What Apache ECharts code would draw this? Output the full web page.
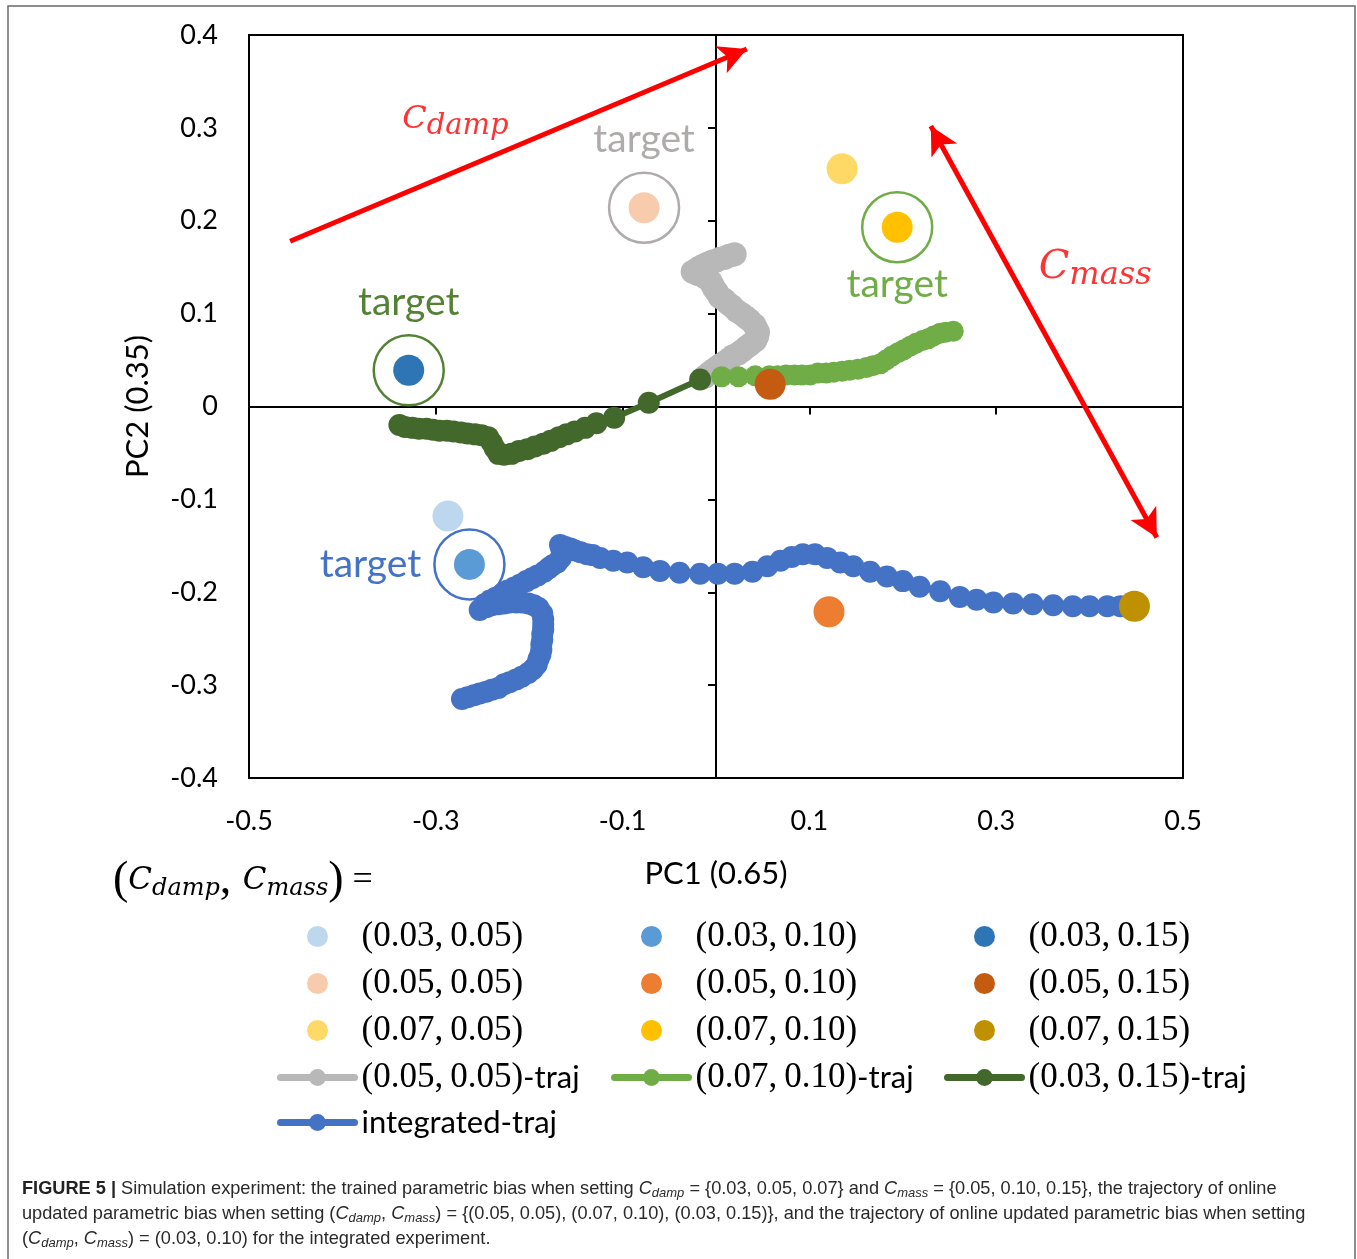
<!DOCTYPE html>
<html><head><meta charset="utf-8">
<script src="https://cdn.jsdelivr.net/npm/echarts@6/dist/echarts.min.js"></script>
<style>html,body{margin:0;padding:0;background:#fff}#c{width:1357px;height:1259px}</style>
</head><body><div id="c"></div>
<script>
// ---------- data ----------
const xTickLabels = [-0.5, -0.3, -0.1, 0.1, 0.3, 0.5];
const xInnerTicks = [-0.3, -0.1, 0.1, 0.3];

const trainedNames = ['(0.03,0.05)', '(0.05,0.05)', '(0.07,0.05)', '(0.03,0.10)', '(0.05,0.10)', '(0.07,0.10)', '(0.03,0.15)', '(0.05,0.15)', '(0.07,0.15)'];
const trainedX = [-0.287, -0.077, 0.135, -0.264, 0.121, 0.194, -0.329, 0.058, 0.448];
const trainedY = [-0.118, 0.214, 0.256, -0.170, -0.221, 0.193, 0.039, 0.024, -0.215];
const trainedColors = ['#BDD7EE', '#F8CBAD', '#FFD966', '#5B9BD5', '#ED7D31', '#FFC000', '#2E75B6', '#C55A11', '#BF9000'];

const grayTrajX = [-0.012, -0.007, -0.003, 0.001, 0.005, 0.010, 0.014, 0.018, 0.024, 0.028, 0.033, 0.037, 0.042, 0.044, 0.045, 0.043, 0.041, 0.036, 0.032, 0.027, 0.022, 0.017, 0.013, 0.009, 0.004, 0.001, -0.002, -0.004, -0.006, -0.010, -0.013, -0.017, -0.020, -0.025, -0.020, -0.017, -0.013, -0.009, -0.004, 0.000, 0.004, 0.009, 0.013, 0.017, 0.020];
const grayTrajY = [0.032, 0.036, 0.039, 0.042, 0.045, 0.048, 0.051, 0.054, 0.057, 0.060, 0.064, 0.067, 0.071, 0.075, 0.080, 0.084, 0.088, 0.093, 0.096, 0.100, 0.103, 0.108, 0.111, 0.115, 0.118, 0.123, 0.127, 0.131, 0.135, 0.138, 0.140, 0.142, 0.143, 0.145, 0.148, 0.150, 0.152, 0.154, 0.156, 0.157, 0.159, 0.160, 0.162, 0.163, 0.164];

const lgTrajX = [0.006, 0.024, 0.042, 0.057, 0.066, 0.075, 0.084, 0.092, 0.101, 0.109, 0.118, 0.126, 0.135, 0.143, 0.152, 0.161, 0.168, 0.176, 0.182, 0.188, 0.195, 0.201, 0.208, 0.214, 0.221, 0.227, 0.233, 0.240, 0.246, 0.254];
const lgTrajY = [0.032, 0.032, 0.033, 0.033, 0.033, 0.034, 0.034, 0.034, 0.034, 0.036, 0.036, 0.037, 0.038, 0.039, 0.040, 0.042, 0.044, 0.046, 0.050, 0.054, 0.058, 0.061, 0.065, 0.068, 0.071, 0.073, 0.076, 0.079, 0.080, 0.081];

const dgTrajX = [-0.017, -0.072, -0.109, -0.128, -0.140, -0.151, -0.160, -0.168, -0.177, -0.185, -0.194, -0.202, -0.211, -0.219, -0.227, -0.233, -0.237, -0.240, -0.244, -0.251, -0.258, -0.266, -0.273, -0.281, -0.288, -0.296, -0.303, -0.310, -0.318, -0.325, -0.333, -0.339];
const dgTrajY = [0.029, 0.004, -0.012, -0.018, -0.023, -0.027, -0.030, -0.033, -0.037, -0.040, -0.043, -0.046, -0.048, -0.051, -0.052, -0.051, -0.045, -0.039, -0.033, -0.031, -0.030, -0.029, -0.028, -0.027, -0.026, -0.026, -0.025, -0.024, -0.024, -0.023, -0.022, -0.020];

const intTrajX = [-0.272, -0.266, -0.259, -0.253, -0.246, -0.240, -0.233, -0.227, -0.221, -0.214, -0.208, -0.201, -0.196, -0.192, -0.190, -0.188, -0.187, -0.187, -0.186, -0.186, -0.185, -0.185, -0.185, -0.186, -0.190, -0.195, -0.201, -0.208, -0.214, -0.221, -0.227, -0.233, -0.240, -0.246, -0.253, -0.248, -0.242, -0.236, -0.229, -0.223, -0.216, -0.210, -0.203, -0.197, -0.191, -0.184, -0.179, -0.175, -0.170, -0.166, -0.164, -0.166, -0.167, -0.162, -0.156, -0.151, -0.145, -0.138, -0.132, -0.124, -0.110, -0.095, -0.078, -0.060, -0.039, -0.017, 0.002, 0.020, 0.039, 0.055, 0.069, 0.081, 0.093, 0.106, 0.119, 0.133, 0.147, 0.165, 0.183, 0.200, 0.218, 0.240, 0.261, 0.279, 0.297, 0.318, 0.339, 0.361, 0.382, 0.400, 0.419, 0.433];
const intTrajY = [-0.315, -0.313, -0.311, -0.309, -0.307, -0.305, -0.303, -0.299, -0.297, -0.294, -0.291, -0.287, -0.283, -0.278, -0.272, -0.267, -0.262, -0.256, -0.251, -0.245, -0.240, -0.235, -0.229, -0.223, -0.217, -0.214, -0.212, -0.211, -0.211, -0.211, -0.212, -0.213, -0.214, -0.216, -0.219, -0.213, -0.209, -0.206, -0.202, -0.198, -0.195, -0.192, -0.188, -0.185, -0.182, -0.178, -0.174, -0.171, -0.168, -0.163, -0.157, -0.152, -0.149, -0.151, -0.153, -0.155, -0.157, -0.159, -0.160, -0.163, -0.166, -0.168, -0.173, -0.177, -0.179, -0.180, -0.180, -0.180, -0.178, -0.172, -0.166, -0.162, -0.159, -0.159, -0.163, -0.168, -0.172, -0.178, -0.183, -0.188, -0.194, -0.199, -0.205, -0.208, -0.211, -0.212, -0.213, -0.214, -0.215, -0.215, -0.215, -0.215];

// target rings: index into trained arrays
const targetIdx = [6, 1, 5, 3];
const targetColors = ['#548235', '#AFABAB', '#70AD47', '#4472C4'];
const targetLabelPos = ['top', 'top', 'bottom', 'left'];

// annotation arrows (data coords)
const dampArrow = [[-0.456, 0.178], [0.033, 0.385]];
const massArrow = [[0.230, 0.302], [0.472, -0.141]];
const dampLabelAt = [-0.279, 0.309];
const massLabelAt = [0.406, 0.150];

// ---------- helpers ----------
const zip = (xs, ys) => xs.map((x, i) => [x, ys[i]]);
const fmt = v => Math.abs(v) < 1e-9 ? '0' : String(Math.round(v * 10) / 10);
const serif = 'Liberation Serif';
const sans = 'Lato';
const mathFont = 'DejaVu Serif';

function legendFmt(name) {
  if (name === 'integrated-traj') return '{s|integrated-traj}';
  const m = name.match(/^\((0\.\d\d),(0\.\d\d)\)(-traj)?$/);
  if (!m) return name;
  const main = '{m|(' + m[1] + ',\u2009' + m[2] + ')}';
  return m[3] ? main + '{s|-traj}' : main;
}
const legendRich = {
  m: { fontFamily: serif, fontSize: 35, lineHeight: 40, color: '#000' },
  s: { fontFamily: sans, fontSize: 31, lineHeight: 40, color: '#000' }
};
function mkLegend(left, data) {
  return {
    orient: 'vertical', left: left, top: 919, padding: 0, itemWidth: 74, itemHeight: 21, itemGap: 12,
    selectedMode: false, data: data, formatter: legendFmt,
    lineStyle: { width: 7, cap: 'round' },
    textStyle: { rich: legendRich, padding: [0, 0, 0, 2] }
  };
}

function trajSeries(name, xs, ys, color, size, lw) {
  return {
    type: 'line', name: name, data: zip(xs, ys), symbol: 'circle', symbolSize: size,
    showSymbol: true, silent: true, z: 2,
    lineStyle: { color: color, width: lw }, itemStyle: { color: color, borderWidth: 0, opacity: 1 },
    emphasis: { disabled: true }
  };
}

const series = [];
series.push(trajSeries('(0.05,0.05)-traj', grayTrajX, grayTrajY, '#B8B8B8', 24, 7));
series.push(trajSeries('(0.07,0.10)-traj', lgTrajX, lgTrajY, '#70AD47', 21, 7));
series.push(trajSeries('(0.03,0.15)-traj', dgTrajX, dgTrajY, '#43682B', 22, 6));
series.push(trajSeries('integrated-traj', intTrajX, intTrajY, '#4472C4', 22, 7));

// target rings
series.push({
  type: 'scatter', name: 'targets', silent: true, z: 3,
  symbol: 'circle', symbolSize: 70,
  data: targetIdx.map((ti, k) => ({
    value: [trainedX[ti], trainedY[ti]],
    itemStyle: { color: 'rgba(0,0,0,0)', borderColor: targetColors[k], borderWidth: 2.5, opacity: 1 },
    label: {
      show: true, position: targetLabelPos[k], formatter: 'target', color: targetColors[k],
      distance: targetLabelPos[k] === 'bottom' ? 1 : 12,
      fontFamily: sans, fontSize: 39, lineHeight: 40
    }
  }))
});

// trained PB points
trainedNames.forEach((n, i) => {
  series.push({
    type: 'scatter', name: n, silent: true, z: 4, symbol: 'circle', symbolSize: 31,
    itemStyle: { color: trainedColors[i], borderWidth: 0, opacity: 1 },
    data: [[trainedX[i], trainedY[i]]]
  });
});

const arrowLine = { color: '#FF0000', width: 5, type: 'solid', opacity: 1 };
const mathRich = (cs, ss, pad) => ({
  c: { fontFamily: mathFont, fontStyle: 'italic', fontWeight: 'normal', fontSize: cs, color: '#FF0000' },
  s: { fontFamily: mathFont, fontStyle: 'italic', fontWeight: 'normal', fontSize: ss, color: '#FF0000', padding: [pad, 0, 0, 0] }
});
series.push({
  type: 'scatter', name: 'dampAnnot', silent: true, z: 5, symbolSize: 1,
  itemStyle: { color: 'rgba(0,0,0,0)' },
  data: [dampLabelAt],
  label: { show: true, position: 'inside', formatter: '{c|C}{s|damp}', rich: mathRich(32, 29, 14) },
  markLine: {
    silent: true, symbol: ['none', 'arrow'], symbolSize: [22, 28], animation: false,
    label: { show: false }, lineStyle: arrowLine, itemStyle: { color: '#FF0000' }, emphasis: { disabled: true },
    data: [[{ coord: dampArrow[0] }, { coord: dampArrow[1] }]]
  }
});
series.push({
  type: 'scatter', name: 'massAnnot', silent: true, z: 5, symbolSize: 1,
  itemStyle: { color: 'rgba(0,0,0,0)' },
  data: [massLabelAt],
  label: { show: true, position: 'inside', formatter: '{c|C}{s|mass}', rich: mathRich(40, 32, 16) },
  markLine: {
    silent: true, symbol: ['arrow', 'arrow'], symbolSize: [22, 28], animation: false,
    label: { show: false }, lineStyle: arrowLine, itemStyle: { color: '#FF0000' }, emphasis: { disabled: true },
    data: [[{ coord: massArrow[0] }, { coord: massArrow[1] }]]
  }
});

const caption =
  '{b|FIGURE 5 |} Simulation experiment: the trained parametric bias when setting {i|C}{sub|damp} = {0.03, 0.05, 0.07} and {i|C}{sub|mass} = {0.05, 0.10, 0.15}, the trajectory of online\n' +
  'updated parametric bias when setting ({i|C}{sub|damp}, {i|C}{sub|mass}) = {(0.05, 0.05), (0.07, 0.10), (0.03, 0.15)}, and the trajectory of online updated parametric bias when setting\n' +
  '({i|C}{sub|damp}, {i|C}{sub|mass}) = (0.03, 0.10) for the integrated experiment.';

const capFont = 'Liberation Sans';
const capColor = '#2a2a2a';
const option = {
  animation: false,
  backgroundColor: '#ffffff',
  graphic: [{
    type: 'rect', silent: true, z: -10,
    shape: { x: 8, y: 6, width: 1347, height: 1280 },
    style: { fill: 'none', stroke: '#6a6a6a', lineWidth: 1.5 }
  }],
  title: [
    {
      text: '{p|(}{c|C}{s|damp}{p|, }{c|C}{s|mass}{p|)}{e| =}',
      left: 113, top: 858, padding: 0,
      textStyle: {
        fontWeight: 'normal',
        rich: {
          p: { fontFamily: serif, fontWeight: 'normal', fontSize: 46, color: '#000' },
          c: { fontFamily: mathFont, fontStyle: 'italic', fontWeight: 'normal', fontSize: 31, color: '#000' },
          s: { fontFamily: mathFont, fontStyle: 'italic', fontWeight: 'normal', fontSize: 24, color: '#000', padding: [16, 0, 0, 0] },
          e: { fontFamily: serif, fontWeight: 'normal', fontSize: 36, color: '#000' }
        }
      }
    },
    {
      text: caption, left: 22, top: 1176, padding: 0,
      textStyle: {
        fontFamily: capFont, fontSize: 18.2, fontWeight: 'normal', color: capColor, lineHeight: 25,
        rich: {
          b: { fontFamily: capFont, fontSize: 18.2, fontWeight: 'bold', color: '#222', lineHeight: 25 },
          i: { fontFamily: capFont, fontSize: 18.2, fontStyle: 'italic', fontWeight: 'normal', color: capColor, lineHeight: 25 },
          sub: { fontFamily: capFont, fontSize: 13, fontStyle: 'italic', fontWeight: 'normal', color: capColor, lineHeight: 13, padding: [9, 0, 0, 0] }
        }
      }
    }
  ],
  grid: {
    left: 249, top: 35, width: 934, height: 743, show: true,
    borderColor: '#000', borderWidth: 2, backgroundColor: 'rgba(0,0,0,0)',
    containLabel: false, outerBoundsMode: 'none'
  },
  xAxis: [
    {
      type: 'value', min: -0.5, max: 0.5, position: 'bottom',
      axisLine: { show: false, onZero: false }, axisTick: { show: false }, splitLine: { show: false },
      axisLabel: { customValues: xTickLabels, formatter: fmt, fontFamily: sans, fontSize: 27, color: '#000', margin: 30 },
      name: 'PC1 (0.65)', nameLocation: 'middle', nameGap: 80,
      nameTextStyle: { fontFamily: sans, fontSize: 31, color: '#000' }
    },
    {
      type: 'value', min: -0.5, max: 0.5, position: 'top',
      axisLine: { show: true, onZero: true, onZeroAxisIndex: 0, lineStyle: { color: '#000', width: 2 } },
      axisTick: { show: true, inside: true, length: 8, customValues: xInnerTicks, lineStyle: { color: '#000', width: 2 } },
      axisLabel: { show: false }, splitLine: { show: false }
    }
  ],
  yAxis: [
    {
      type: 'value', min: -0.4, max: 0.4, interval: 0.1, position: 'left',
      axisLine: { show: false, onZero: false }, axisTick: { show: false }, splitLine: { show: false },
      axisLabel: { formatter: fmt, fontFamily: sans, fontSize: 27, color: '#000', margin: 31 },
      name: 'PC2 (0.35)', nameLocation: 'middle', nameGap: 96, nameRotate: 90,
      nameTextStyle: { fontFamily: sans, fontSize: 31, color: '#000' }
    },
    {
      type: 'value', min: -0.4, max: 0.4, interval: 0.1, position: 'right',
      axisLine: { show: true, onZero: true, onZeroAxisIndex: 0, lineStyle: { color: '#000', width: 2 } },
      axisTick: { show: true, inside: true, length: 8, lineStyle: { color: '#000', width: 2 } },
      axisLabel: { show: false }, splitLine: { show: false }
    }
  ],
  legend: [
    mkLegend(277, ['(0.03,0.05)', '(0.05,0.05)', '(0.07,0.05)', '(0.05,0.05)-traj', 'integrated-traj']),
    mkLegend(611, ['(0.03,0.10)', '(0.05,0.10)', '(0.07,0.10)', '(0.07,0.10)-traj']),
    mkLegend(944, ['(0.03,0.15)', '(0.05,0.15)', '(0.07,0.15)', '(0.03,0.15)-traj'])
  ],
  series: series
};

const chart = echarts.init(document.getElementById('c'), null, { renderer: 'canvas' });
chart.setOption(option);
</script>
</body></html>
